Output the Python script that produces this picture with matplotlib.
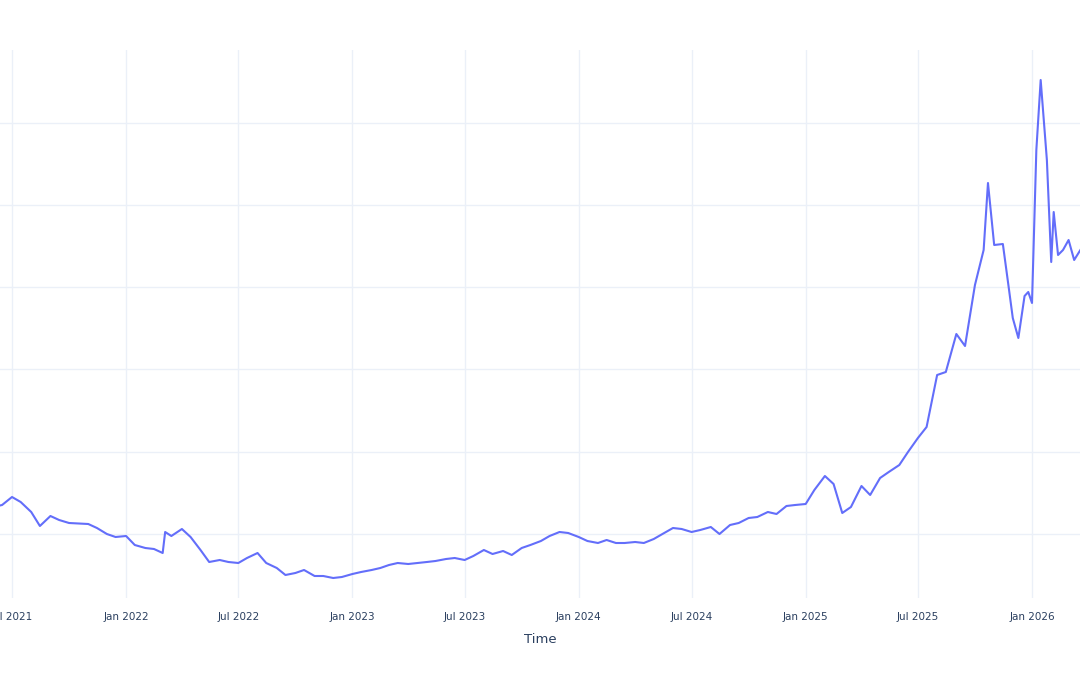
import matplotlib
matplotlib.use("Agg")
import matplotlib.pyplot as plt
import matplotlib.dates as mdates
import numpy as np
import pandas as pd

dates = ["2021-06-01","2021-06-15","2021-07-01","2021-07-15","2021-08-01","2021-08-15","2021-09-01","2021-09-15",
"2021-10-01","2021-11-01","2021-11-15","2021-12-01","2021-12-15","2022-01-01","2022-01-15","2022-02-01","2022-02-15",
"2022-03-01","2022-03-05","2022-03-15","2022-04-01","2022-04-15","2022-05-01","2022-05-15","2022-06-01","2022-06-15",
"2022-07-01","2022-07-15","2022-08-01","2022-08-15","2022-09-01","2022-09-15","2022-10-01","2022-10-15","2022-11-01",
"2022-11-15","2022-12-01","2022-12-15","2023-01-01","2023-01-15","2023-02-01","2023-02-15","2023-03-01","2023-03-15",
"2023-04-01","2023-05-01","2023-05-15","2023-06-01","2023-06-15","2023-07-01","2023-07-15","2023-08-01","2023-08-15",
"2023-09-01","2023-09-15","2023-10-01","2023-10-15","2023-11-01","2023-11-15","2023-12-01","2023-12-15","2024-01-01",
"2024-01-15","2024-02-01","2024-02-15","2024-03-01","2024-03-15","2024-04-01","2024-04-15","2024-05-01","2024-05-15",
"2024-06-01","2024-06-15","2024-07-01","2024-07-15","2024-08-01","2024-08-15","2024-09-01","2024-09-15","2024-10-01",
"2024-10-15","2024-11-01","2024-11-15","2024-12-01","2024-12-15","2025-01-01","2025-01-15","2025-02-01","2025-02-15",
"2025-03-01","2025-03-15","2025-04-01","2025-04-15","2025-05-01","2025-05-15","2025-06-01","2025-06-15","2025-07-01",
"2025-07-15","2025-08-01","2025-08-15","2025-09-01","2025-09-15","2025-10-01","2025-10-15","2025-10-22","2025-11-01",
"2025-11-15","2025-11-25","2025-12-01","2025-12-10","2025-12-20","2025-12-26","2026-01-01","2026-01-08","2026-01-15",
"2026-01-20","2026-01-25","2026-02-01","2026-02-05","2026-02-12","2026-02-20","2026-03-01","2026-03-10","2026-03-20"]
values = [93,95,103,98,88,74,84,80,77,76,72,66,63,64,55,52,51,47,68,64,71,63,50,38,40,38,37,42,47,37,32,25,27,30,
24,24,22,23,26,28,30,32,35,37,36,38,39,41,42,40,44,50,46,49,45,52,55,59,64,68,67,63,59,57,60,57,57,58,57,61,66,
72,71,68,70,73,66,75,77,82,83,88,86,94,95,96,110,124,116,87,93,114,105,122,128,135,148,162,173,225,228,266,254,
315,350,417,355,356,310,282,262,304,308,297,450,520,480,440,338,388,345,350,360,340,350]

df = pd.DataFrame({"date": pd.to_datetime(dates), "value": values})

fig = plt.figure(figsize=(10.8, 6.75), dpi=100)
ax = fig.add_axes([0, 77/675, 1, 548/675])
ppd = 1020 / (pd.Timestamp("2026-01-01") - pd.Timestamp("2021-07-01")).days
left = pd.Timestamp("2021-07-01") - pd.Timedelta(days=12/ppd)
right = pd.Timestamp("2026-01-01") + pd.Timedelta(days=48/ppd)
ax.plot(df["date"], df["value"], color="#636efa", lw=1.5)
ax.set_xlim(left, right)
ax.set_ylim(2, 550)
ax.set_yticks(66 + 82.3*np.arange(0, 6))
ax.set_yticklabels([])
ticks = pd.date_range("2021-07-01", "2026-01-01", freq="6MS")
ax.set_xticks(ticks)
ax.set_xticklabels([t.strftime("%b %Y") for t in ticks], color="#2a3f5f", fontsize=7.5)
ax.tick_params(length=0, pad=10)
ax.grid(True, color="#ebf0f8", lw=1)
ax.set_axisbelow(True)
for s in ax.spines.values():
    s.set_visible(False)
ax.set_xlabel("Time", color="#2a3f5f", fontsize=9.5, labelpad=8)
fig.savefig("out.png", dpi=100, facecolor="white")
